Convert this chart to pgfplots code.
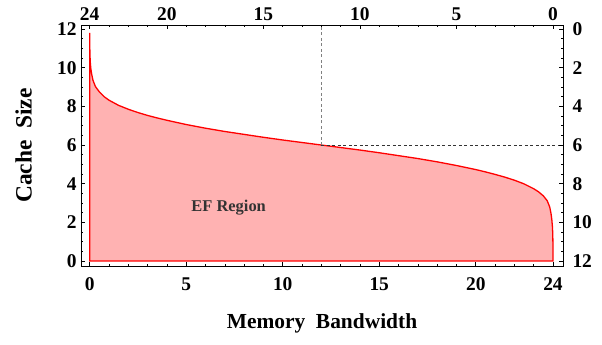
\documentclass[border=0pt]{standalone}
\usepackage{pgfplots}
\pgfplotsset{compat=1.18}
\usepackage{pgfplotstable}
\usepackage{fontspec}
\setmainfont{Liberation Serif}
\definecolor{fillpink}{RGB}{255,178,178}
\pgfplotstableread{
x y
0 0
0 11.8
0.005 11.1
0.015 10.65
0.03 10.3
0.06 9.95
0.1 9.68
0.17 9.35
0.3 9.02
0.5 8.75
0.75 8.5
1 8.32
1.5 8.05
2 7.85
2.5 7.68
3 7.53
3.5 7.40
4 7.28
5 7.06
6 6.87
7 6.70
8 6.55
9 6.40
10 6.26
11 6.13
12 6.0
13 5.87
14 5.74
15 5.60
16 5.45
17 5.30
18 5.13
19 4.94
20 4.73
20.5 4.61
21 4.48
21.5 4.34
22 4.18
22.5 3.99
23 3.74
23.25 3.58
23.5 3.37
23.7 3.12
23.83 2.8
23.9 2.45
23.94 2.15
23.97 1.8
23.99 1.4
24 0.8
24 0
}\curve
\pgfplotsset{
  common/.style={
    width=482bp, height=241bp, scale only axis,
    xmin=-0.45, xmax=24.52, ymin=-0.26, ymax=12.21,
    tick align=inside,
    major tick length=4.5bp, minor tick length=2.5bp,
    axis line style={line width=0.8bp, black},
    every tick/.style={black, line width=0.6bp},
    /pgf/number format/assume math mode=true,
    tick label style={font=\bfseries\fontsize{19.5}{19.5}\selectfont},
    minor xtick={0,1,...,24},
    minor ytick={0,0.5,...,12},
  }
}
\begin{document}
\begin{tikzpicture}
\begin{axis}[common,
  xtick pos=left, ytick pos=left,
  xtick={0,5,10,15,20,24},
  ytick={0,2,...,12},
  xlabel={Memory\ \ Bandwidth},
  ylabel={Cache\ \ Size},
  xlabel style={font=\bfseries\fontsize{21.5}{21.5}\selectfont, at={(axis description cs:0.5,-0.261)}, anchor=base, inner sep=0pt},
  ylabel style={font=\bfseries\fontsize{23.5}{23.5}\selectfont, at={(axis description cs:-0.1017,0.5)}, anchor=south, inner sep=0pt, rotate=0},
  xticklabel style={yshift=-8bp},
  yticklabel style={xshift=-1bp},
  clip=false,
]
\addplot[draw=red, line width=1.3bp, fill=fillpink] table {\curve} -- cycle;
\addplot[gray, line width=1.3bp, dash pattern=on 3bp off 2.5bp] coordinates {(12,6) (12,12.21)};
\addplot[black!80, line width=0.7bp, dash pattern=on 3bp off 2.5bp] coordinates {(12,6) (24.52,6)};
\node[font=\bfseries\fontsize{16.5}{16.5}\selectfont, text=black!80] at (axis cs:7.2,2.75) {EF Region};
\coordinate (SW) at (rel axis cs:0,0);
\coordinate (NE) at (rel axis cs:1,1);
\end{axis}
\begin{axis}[common,
  xtick pos=right, ytick pos=right,
  xticklabel pos=right, yticklabel pos=right,
  xtick={0,4,9,14,19,24},
  xticklabels={24,20,15,10,5,0},
  ytick={0,2,...,12},
  yticklabels={12,10,8,6,4,2,0},
  xticklabel style={yshift=1bp},
  yticklabel style={xshift=6bp},
]
\end{axis}
\path ([shift={(-81bp,-79bp)}]SW) rectangle ([shift={(39bp,25bp)}]NE);
\end{tikzpicture}
\end{document}
